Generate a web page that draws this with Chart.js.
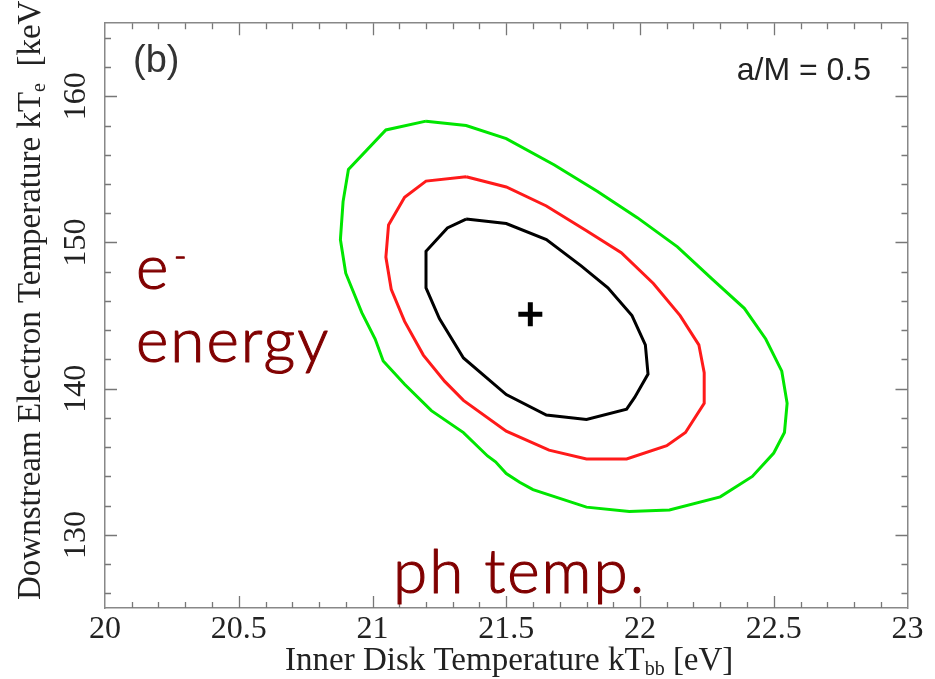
<!DOCTYPE html>
<html><head><meta charset="utf-8">
<script src="https://cdn.jsdelivr.net/npm/chart.js@4"></script>
<style>html,body{margin:0;padding:0;background:#fff;}</style>
</head><body>
<canvas id="c" width="935" height="679"></canvas>
<script>
// ---- data ----
const xTickValues = [20, 20.5, 21, 21.5, 22, 22.5, 23];
const yTickValues = [130, 140, 150, 160];

const green99X = [21.20,21.05,20.91,20.89,20.88,20.90,20.96,21.01,21.04,21.12,21.22,21.34,21.43,21.46,21.50,21.55,21.60,21.80,21.96,22.11,22.30,22.42,22.50,22.54,22.55,22.53,22.47,22.39,22.27,22.14,21.99,21.84,21.68,21.50,21.35,21.20];
const green99Y = [158.3,157.7,155.0,152.8,150.2,147.9,145.2,143.4,141.9,140.3,138.5,137.0,135.4,135.0,134.2,133.6,133.1,131.9,131.6,131.7,132.6,134.0,135.6,137.0,139.0,141.2,143.4,145.5,147.5,149.7,151.7,153.5,155.3,157.1,158.0,158.3];

const red90X = [21.35,21.20,21.12,21.06,21.05,21.07,21.12,21.19,21.27,21.34,21.50,21.66,21.80,21.95,22.10,22.17,22.24,22.24,22.22,22.15,22.05,21.93,21.80,21.65,21.50,21.35];
const red90Y = [154.5,154.2,153.1,151.2,149.0,146.8,144.6,142.3,140.5,139.2,137.1,135.8,135.2,135.2,136.1,137.0,139.0,141.1,143.0,145.0,147.2,149.3,150.8,152.5,153.8,154.5];

const black68X = [21.35,21.28,21.20,21.20,21.25,21.34,21.50,21.65,21.80,21.95,21.98,22.03,22.02,21.97,21.88,21.78,21.65,21.50,21.35];
const black68Y = [151.6,151.0,149.4,146.9,144.8,142.1,139.6,138.2,137.9,138.6,139.4,141.0,143.0,145.0,146.9,148.4,150.2,151.3,151.6];

const bestFitX = [21.59];
const bestFitY = [145.1];

// ---- helpers ----
const pts = (xs, ys) => xs.map((x, i) => ({x: x, y: ys[i]}));
const serif = 'Liberation Serif, Times New Roman, serif';
const sans = 'Liberation Sans, Arial, sans-serif';
const redText = '#800000';
const redFont = '300 62px "Lato Light", Lato, sans-serif';

const ticksPlugin = {
  id: 'innerTicks',
  afterDatasetsDraw(chart) {
    const ctx = chart.ctx, xs = chart.scales.x, ys = chart.scales.y, a = chart.chartArea;
    ctx.save();
    ctx.strokeStyle = '#777';
    ctx.lineWidth = 1.3;
    ctx.beginPath();
    for (let i = 1; i < 30; i++) {
      const v = 20 + i * 0.1;
      const px = Math.round(xs.getPixelForValue(v)) + 0.5;
      const len = (i % 5 === 0) ? 12 : 6;
      ctx.moveTo(px, a.bottom); ctx.lineTo(px, a.bottom - len);
      ctx.moveTo(px, a.top); ctx.lineTo(px, a.top + len);
    }
    for (let v = 126; v < 165; v += 2) {
      const py = Math.round(ys.getPixelForValue(v)) + 0.5;
      const len = (v % 10 === 0) ? 12 : 6;
      ctx.moveTo(a.left, py); ctx.lineTo(a.left + len, py);
      ctx.moveTo(a.right, py); ctx.lineTo(a.right - len, py);
    }
    ctx.stroke();
    ctx.restore();
  }
};

function boldText(ctx, s, x, y) {
  ctx.fillText(s, x, y);
  ctx.strokeText(s, x, y);
}

const textPlugin = {
  id: 'texts',
  afterDraw(chart) {
    const ctx = chart.ctx;
    ctx.save();
    ctx.textAlign = 'left';
    ctx.textBaseline = 'alphabetic';
    // panel label
    ctx.fillStyle = '#333';
    ctx.font = '38px ' + sans;
    ctx.fillText('(b)', 133, 72);
    ctx.fillStyle = '#222';
    ctx.font = '32px ' + sans;
    ctx.textAlign = 'right';
    ctx.fillText('a/M = 0.5', 871, 80);
    ctx.textAlign = 'left';
    // x title
    ctx.fillStyle = '#222';
    ctx.font = '33px ' + serif;
    let t1 = 'Inner Disk Temperature kT';
    let x0 = 285, yb = 670;
    ctx.fillText(t1, x0, yb);
    let w = ctx.measureText(t1).width;
    ctx.font = '20px ' + serif;
    ctx.fillText('bb', x0 + w, yb + 5);
    let w2 = ctx.measureText('bb').width;
    ctx.font = '33px ' + serif;
    ctx.fillText(' [eV]', x0 + w + w2, yb);
    // y title
    ctx.save();
    ctx.translate(40, 600);
    ctx.rotate(-Math.PI / 2);
    let t2 = 'Downstream Electron Temperature kT';
    ctx.fillText(t2, 0, 0);
    w = ctx.measureText(t2).width;
    ctx.font = '20px ' + serif;
    ctx.fillText('e', w, 5);
    w2 = ctx.measureText('e').width;
    ctx.font = '33px ' + serif;
    ctx.fillText('  [keV]', w + w2, 0);
    ctx.restore();
    // annotations
    ctx.fillStyle = redText;
    ctx.strokeStyle = redText;
    ctx.lineWidth = 1.1;
    ctx.lineJoin = 'round';
    ctx.font = redFont;
    ctx.letterSpacing = '2px';
    boldText(ctx, 'e', 136, 289);
    ctx.font = '300 34px "Lato Light", Lato, sans-serif';
    boldText(ctx, '-', 174, 268);
    ctx.font = redFont;
    boldText(ctx, 'energy', 136, 362);
    boldText(ctx, 'ph temp.', 393, 593);
    ctx.restore();
  }
};

const frame = {display: true, color: '#888', width: 1.5};

new Chart(document.getElementById('c'), {
  type: 'scatter',
  data: {
    datasets: [
      {label: '99%', data: pts(green99X, green99Y), showLine: true, borderColor: '#00e600', borderWidth: 3, pointRadius: 0, fill: false, tension: 0},
      {label: '90%', data: pts(red90X, red90Y), showLine: true, borderColor: '#ff1a1a', borderWidth: 3, pointRadius: 0, fill: false, tension: 0},
      {label: '68%', data: pts(black68X, black68Y), showLine: true, borderColor: '#000', borderWidth: 3, pointRadius: 0, fill: false, tension: 0},
      {label: 'best fit', data: pts(bestFitX, bestFitY), showLine: false, pointStyle: 'cross', pointRadius: 12, pointBorderWidth: 5, borderColor: '#000', backgroundColor: '#000'}
    ]
  },
  options: {
    responsive: false,
    animation: false,
    devicePixelRatio: 1,
    layout: {padding: 0},
    plugins: {legend: {display: false}, tooltip: {enabled: false}, title: {display: false}},
    scales: {
      x: {
        type: 'linear', position: 'bottom', min: 20, max: 23,
        afterBuildTicks: s => { s.ticks = xTickValues.map(v => ({value: v})); },
        afterFit: s => { s.height = 71; },
        grid: {display: false, drawTicks: false},
        border: frame,
        ticks: {font: {family: serif, size: 32}, color: '#222', padding: 2, maxRotation: 0, autoSkip: false,
                callback: v => String(v)}
      },
      x2: {
        type: 'linear', position: 'top', min: 20, max: 23,
        afterFit: s => { s.height = 12.5; },
        grid: {display: false, drawTicks: false},
        border: frame,
        ticks: {display: false}
      },
      y: {
        type: 'linear', position: 'left', min: 125, max: 165,
        afterBuildTicks: s => { s.ticks = yTickValues.map(v => ({value: v})); },
        afterFit: s => { s.width = 105; },
        grid: {display: false, drawTicks: false},
        border: frame,
        ticks: {font: {family: serif, size: 32}, color: '#222', padding: 4, minRotation: 90, maxRotation: 90, crossAlign: 'center', autoSkip: false,
                callback: v => String(v)}
      },
      y2: {
        type: 'linear', position: 'right', min: 125, max: 165,
        afterFit: s => { s.width = 27.5; },
        grid: {display: false, drawTicks: false},
        border: frame,
        ticks: {display: false}
      }
    }
  },
  plugins: [ticksPlugin, textPlugin]
});
</script>
</body></html>
